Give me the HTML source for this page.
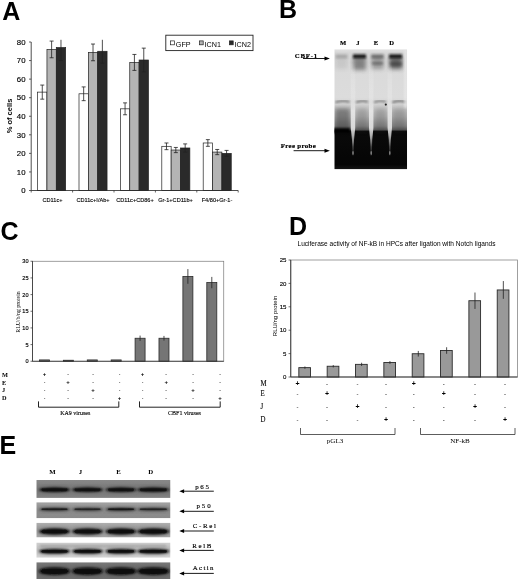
<!DOCTYPE html>
<html lang="en"><head><meta charset="utf-8"><title>Figure</title>
<style>html,body{margin:0;padding:0;background:#fff;}svg{display:block;}text{font-family:"Liberation Sans", sans-serif;fill:#000;}.sf{font-family:"Liberation Serif", serif;}.pl{font-weight:bold;font-size:25px;fill:#000;}</style></head><body>
<svg width="520" height="579" viewBox="0 0 520 579">
<defs>
<filter id="b1" x="-20%" y="-50%" width="140%" height="200%"><feGaussianBlur stdDeviation="1.2"/></filter>
<filter id="b2" x="-20%" y="-50%" width="140%" height="200%"><feGaussianBlur stdDeviation="2"/></filter>
<filter id="b05" x="-20%" y="-50%" width="140%" height="200%"><feGaussianBlur stdDeviation="0.7"/></filter>
<filter id="b09" x="-20%" y="-80%" width="140%" height="260%"><feGaussianBlur stdDeviation="0.9"/></filter>
<filter id="soft"><feGaussianBlur stdDeviation="0.35"/></filter>
<linearGradient id="gelbg" x1="0" y1="0" x2="0" y2="1"><stop offset="0" stop-color="#e2e2e2"/><stop offset="0.03" stop-color="#d6d6d6"/><stop offset="0.15" stop-color="#dadada"/><stop offset="0.40" stop-color="#dcdcdc"/><stop offset="0.47" stop-color="#cfcfcf"/><stop offset="0.56" stop-color="#b2b2b2"/><stop offset="0.64" stop-color="#888888"/><stop offset="0.668" stop-color="#606060"/><stop offset="0.685" stop-color="#0a0a0a"/><stop offset="0.96" stop-color="#050505"/><stop offset="1" stop-color="#151515"/></linearGradient>
<linearGradient id="streak" gradientUnits="userSpaceOnUse" x1="0" y1="62" x2="0" y2="156"><stop offset="0" stop-color="#eeeeee" stop-opacity="0.0"/><stop offset="0.2" stop-color="#eeeeee" stop-opacity="0.28"/><stop offset="0.42" stop-color="#e8e8e8" stop-opacity="0.5"/><stop offset="0.52" stop-color="#e8e8e8" stop-opacity="0.9"/><stop offset="0.70" stop-color="#dedede" stop-opacity="0.95"/><stop offset="0.78" stop-color="#c4c4c4" stop-opacity="0.9"/><stop offset="0.85" stop-color="#909090" stop-opacity="0.85"/><stop offset="0.90" stop-color="#505050" stop-opacity="0.8"/><stop offset="1" stop-color="#444444" stop-opacity="0.2"/></linearGradient>
<clipPath id="gelclip"><rect x="334.5" y="49.3" width="72.6" height="120"/></clipPath>
</defs>
<rect width="520" height="579" fill="#fff"/>
<text class="pl" x="2.3" y="19.5">A</text>
<text class="pl" x="279" y="18.2">B</text>
<text class="pl" x="0.4" y="239.6">C</text>
<text class="pl" x="289" y="234.9">D</text>
<text class="pl" x="-0.5" y="453.9">E</text>
<g id="panelA">
<rect x="37.60" y="92.12" width="9.35" height="98.38" fill="#ffffff" stroke="#222" stroke-width="0.7"/>
<rect x="46.95" y="49.43" width="9.35" height="141.07" fill="#b4b4b4" stroke="#222" stroke-width="0.7"/>
<rect x="56.30" y="47.57" width="9.35" height="142.93" fill="#2a2a2a" stroke="#222" stroke-width="0.7"/>
<path d="M42.27 85.07V99.17M40.27 85.07h4M40.27 99.17h4" stroke="#222" stroke-width="0.8" fill="none"/>
<path d="M51.62 41.07V57.78M49.62 41.07h4M49.62 57.78h4" stroke="#222" stroke-width="0.8" fill="none"/>
<path d="M60.97 39.80V60.56M58.97 60.56h4" stroke="#222" stroke-width="0.8" fill="none"/>
<rect x="79.00" y="93.79" width="9.35" height="96.71" fill="#ffffff" stroke="#222" stroke-width="0.7"/>
<rect x="88.35" y="52.39" width="9.35" height="138.11" fill="#b4b4b4" stroke="#222" stroke-width="0.7"/>
<rect x="97.70" y="51.28" width="9.35" height="139.22" fill="#2a2a2a" stroke="#222" stroke-width="0.7"/>
<path d="M83.67 86.92V100.66M81.67 86.92h4M81.67 100.66h4" stroke="#222" stroke-width="0.8" fill="none"/>
<path d="M93.02 44.04V60.75M91.02 44.04h4M91.02 60.75h4" stroke="#222" stroke-width="0.8" fill="none"/>
<path d="M102.37 39.80V63.16M100.37 63.16h4" stroke="#222" stroke-width="0.8" fill="none"/>
<rect x="120.40" y="108.83" width="9.35" height="81.67" fill="#ffffff" stroke="#222" stroke-width="0.7"/>
<rect x="129.75" y="62.42" width="9.35" height="128.08" fill="#b4b4b4" stroke="#222" stroke-width="0.7"/>
<rect x="139.10" y="60.01" width="9.35" height="130.49" fill="#2a2a2a" stroke="#222" stroke-width="0.7"/>
<path d="M125.07 102.88V114.77M123.07 102.88h4M123.07 114.77h4" stroke="#222" stroke-width="0.8" fill="none"/>
<path d="M134.42 54.44V70.40M132.42 54.44h4M132.42 70.40h4" stroke="#222" stroke-width="0.8" fill="none"/>
<path d="M143.77 48.13V71.89M141.77 48.13h4M141.77 71.89h4" stroke="#222" stroke-width="0.8" fill="none"/>
<rect x="161.80" y="146.32" width="9.35" height="44.18" fill="#ffffff" stroke="#222" stroke-width="0.7"/>
<rect x="171.15" y="150.03" width="9.35" height="40.47" fill="#b4b4b4" stroke="#222" stroke-width="0.7"/>
<rect x="180.50" y="147.99" width="9.35" height="42.51" fill="#2a2a2a" stroke="#222" stroke-width="0.7"/>
<path d="M166.47 142.98V149.66M164.47 142.98h4M164.47 149.66h4" stroke="#222" stroke-width="0.8" fill="none"/>
<path d="M175.82 147.44V152.63M173.82 147.44h4M173.82 152.63h4" stroke="#222" stroke-width="0.8" fill="none"/>
<path d="M185.17 143.91V152.08M183.17 143.91h4M183.17 152.08h4" stroke="#222" stroke-width="0.8" fill="none"/>
<rect x="203.20" y="142.98" width="9.35" height="47.52" fill="#ffffff" stroke="#222" stroke-width="0.7"/>
<rect x="212.55" y="152.08" width="9.35" height="38.42" fill="#b4b4b4" stroke="#222" stroke-width="0.7"/>
<rect x="221.90" y="153.38" width="9.35" height="37.12" fill="#2a2a2a" stroke="#222" stroke-width="0.7"/>
<path d="M207.87 139.64V146.32M205.87 139.64h4M205.87 146.32h4" stroke="#222" stroke-width="0.8" fill="none"/>
<path d="M217.22 149.48V154.67M215.22 149.48h4M215.22 154.67h4" stroke="#222" stroke-width="0.8" fill="none"/>
<path d="M226.57 150.41V156.34M224.57 150.41h4M224.57 156.34h4" stroke="#222" stroke-width="0.8" fill="none"/>
<path d="M31.20 42.00V190.50H238.20" stroke="#222" stroke-width="0.8" fill="none"/>
<path d="M31.20 190.50h-2.2" stroke="#222" stroke-width="0.7"/>
<text x="25.5" y="193.30" font-size="7.8" text-anchor="end" stroke="#000" stroke-width="0.15">0</text>
<path d="M31.20 171.94h-2.2" stroke="#222" stroke-width="0.7"/>
<text x="25.5" y="174.74" font-size="7.8" text-anchor="end" stroke="#000" stroke-width="0.15">10</text>
<path d="M31.20 153.38h-2.2" stroke="#222" stroke-width="0.7"/>
<text x="25.5" y="156.18" font-size="7.8" text-anchor="end" stroke="#000" stroke-width="0.15">20</text>
<path d="M31.20 134.81h-2.2" stroke="#222" stroke-width="0.7"/>
<text x="25.5" y="137.61" font-size="7.8" text-anchor="end" stroke="#000" stroke-width="0.15">30</text>
<path d="M31.20 116.25h-2.2" stroke="#222" stroke-width="0.7"/>
<text x="25.5" y="119.05" font-size="7.8" text-anchor="end" stroke="#000" stroke-width="0.15">40</text>
<path d="M31.20 97.69h-2.2" stroke="#222" stroke-width="0.7"/>
<text x="25.5" y="100.49" font-size="7.8" text-anchor="end" stroke="#000" stroke-width="0.15">50</text>
<path d="M31.20 79.12h-2.2" stroke="#222" stroke-width="0.7"/>
<text x="25.5" y="81.92" font-size="7.8" text-anchor="end" stroke="#000" stroke-width="0.15">60</text>
<path d="M31.20 60.56h-2.2" stroke="#222" stroke-width="0.7"/>
<text x="25.5" y="63.36" font-size="7.8" text-anchor="end" stroke="#000" stroke-width="0.15">70</text>
<path d="M31.20 42.00h-2.2" stroke="#222" stroke-width="0.7"/>
<text x="25.5" y="44.80" font-size="7.8" text-anchor="end" stroke="#000" stroke-width="0.15">80</text>
<path d="M31.20 190.50v2" stroke="#222" stroke-width="0.7"/>
<path d="M72.60 190.50v2" stroke="#222" stroke-width="0.7"/>
<path d="M114.00 190.50v2" stroke="#222" stroke-width="0.7"/>
<path d="M155.40 190.50v2" stroke="#222" stroke-width="0.7"/>
<path d="M196.80 190.50v2" stroke="#222" stroke-width="0.7"/>
<path d="M238.20 190.50v2" stroke="#222" stroke-width="0.7"/>
<text x="52.5" y="202.3" font-size="5.6" text-anchor="middle" stroke="#000" stroke-width="0.12">CD11c+</text>
<text x="93.0" y="202.3" font-size="5.6" text-anchor="middle" stroke="#000" stroke-width="0.12">CD11c+I/Ab+</text>
<text x="135.0" y="202.3" font-size="5.6" text-anchor="middle" stroke="#000" stroke-width="0.12">CD11c+CD86+</text>
<text x="175.5" y="202.3" font-size="5.6" text-anchor="middle" stroke="#000" stroke-width="0.12">Gr-1+CD11b+</text>
<text x="217.0" y="202.3" font-size="5.6" text-anchor="middle" stroke="#000" stroke-width="0.12">F4/80+Gr-1-</text>
<text transform="translate(12.2,116) rotate(-90)" font-size="7.5" font-weight="bold" text-anchor="middle">% of cells</text>
<rect x="165.8" y="35.2" width="87.2" height="15.4" fill="#fff" stroke="#222" stroke-width="0.9"/>
<rect x="170.6" y="40.9" width="3.8" height="3.9" fill="#fff" stroke="#222" stroke-width="0.7"/>
<text x="175.8" y="47" font-size="7.2">GFP</text>
<rect x="199.4" y="40.9" width="3.8" height="3.9" fill="#b4b4b4" stroke="#222" stroke-width="0.7"/>
<text x="204.6" y="47" font-size="7.2">ICN1</text>
<rect x="229.4" y="40.9" width="3.8" height="3.9" fill="#2a2a2a" stroke="#222" stroke-width="0.7"/>
<text x="234.6" y="47" font-size="7.2">ICN2</text>
</g>
<g id="panelB">
<g clip-path="url(#gelclip)">
<rect x="334" y="49.2" width="73.2" height="120.2" fill="url(#gelbg)"/>
<rect x="335.5" y="57" width="12.0" height="12.0" fill="#3a3a3a" opacity="0.10" filter="url(#b2)"/>
<rect x="353.0" y="57" width="13.0" height="13.0" fill="#3a3a3a" opacity="0.55" filter="url(#b2)"/>
<rect x="371.5" y="57" width="12.0" height="12.0" fill="#3a3a3a" opacity="0.42" filter="url(#b2)"/>
<rect x="389.3" y="57" width="13.0" height="12.0" fill="#3a3a3a" opacity="0.75" filter="url(#b2)"/>
<rect x="335.0" y="108" width="15.0" height="24" fill="#222" opacity="0.42" filter="url(#b2)"/>
<rect x="356.5" y="108" width="11.0" height="24" fill="#222" opacity="0.18" filter="url(#b2)"/>
<rect x="375.0" y="108" width="11.0" height="24" fill="#222" opacity="0.18" filter="url(#b2)"/>
<rect x="392.5" y="108" width="13.0" height="24" fill="#222" opacity="0.20" filter="url(#b2)"/>
<rect x="332" y="128.2" width="18" height="5" fill="#060606" filter="url(#b1)"/>
<path d="M350.7 62 L355.3 62 L355.2 128 L354.0 140 L353.6 156 L352.4 156 L352.0 140 L350.8 128 Z" fill="url(#streak)" filter="url(#b05)"/>
<ellipse cx="353.0" cy="153" rx="0.8" ry="2" fill="#999" opacity="0.8" filter="url(#b05)"/>
<path d="M368.9 62 L373.5 62 L373.4 128 L372.2 140 L371.8 156 L370.6 156 L370.2 140 L369.0 128 Z" fill="url(#streak)" filter="url(#b05)"/>
<ellipse cx="371.2" cy="153" rx="0.8" ry="2" fill="#999" opacity="0.8" filter="url(#b05)"/>
<path d="M387.5 62 L392.1 62 L392.0 128 L390.8 140 L390.4 156 L389.2 156 L388.8 140 L387.6 128 Z" fill="url(#streak)" filter="url(#b05)"/>
<ellipse cx="389.8" cy="153" rx="0.8" ry="2" fill="#999" opacity="0.8" filter="url(#b05)"/>
<rect x="335.5" y="54.4" width="12.0" height="4" fill="#101010" opacity="0.20" filter="url(#b1)"/>
<rect x="353.0" y="54.4" width="13.0" height="4" fill="#101010" opacity="0.95" filter="url(#b1)"/>
<rect x="371.2" y="54.4" width="12.5" height="4" fill="#101010" opacity="0.45" filter="url(#b1)"/>
<rect x="389.1" y="54.4" width="13.0" height="4" fill="#101010" opacity="0.95" filter="url(#b1)"/>
<rect x="372" y="62" width="11" height="2.6" fill="#333" opacity="0.4" filter="url(#b1)"/>
<rect x="390" y="62" width="12" height="4" fill="#222" opacity="0.35" filter="url(#b1)"/>
<path d="M335.5 102.3 Q342.5 100.2 349.5 101.8" stroke="#333" stroke-width="2" fill="none" opacity="0.55" filter="url(#b09)"/>
<path d="M356.2 102.3 Q362.0 100.2 367.8 101.8" stroke="#333" stroke-width="2" fill="none" opacity="0.55" filter="url(#b09)"/>
<path d="M374.2 102.3 Q380.0 100.2 385.8 101.8" stroke="#333" stroke-width="2" fill="none" opacity="0.50" filter="url(#b09)"/>
<path d="M392.5 102.3 Q399.0 100.2 405.5 101.8" stroke="#333" stroke-width="2" fill="none" opacity="0.60" filter="url(#b09)"/>
<circle cx="385.8" cy="104.6" r="1.1" fill="#222" filter="url(#b05)"/>
<rect x="404" y="50" width="3.4" height="58" fill="#eee" opacity="0.55" filter="url(#b1)"/>
</g>
<text class="sf" x="343.0" y="45.4" font-size="6.6" font-weight="bold" text-anchor="middle" stroke="#000" stroke-width="0.15">M</text>
<text class="sf" x="357.8" y="45.4" font-size="6.6" font-weight="bold" text-anchor="middle" stroke="#000" stroke-width="0.15">J</text>
<text class="sf" x="376.0" y="45.4" font-size="6.6" font-weight="bold" text-anchor="middle" stroke="#000" stroke-width="0.15">E</text>
<text class="sf" x="391.6" y="45.4" font-size="6.6" font-weight="bold" text-anchor="middle" stroke="#000" stroke-width="0.15">D</text>
<text class="sf" x="294.8" y="57.9" font-size="6.8" font-weight="bold" letter-spacing="0.75" stroke="#000" stroke-width="0.2">CBF-1</text>
<path d="M303 58.5H326" stroke="#000" stroke-width="0.9"/><path d="M329.9 58.5l-5.4 -2v4z" fill="#000"/>
<text class="sf" x="280.7" y="148" font-size="6.9" font-weight="bold" letter-spacing="0.33" stroke="#000" stroke-width="0.2">Free probe</text>
<path d="M293.6 150.7H326" stroke="#000" stroke-width="0.9"/><path d="M329.9 150.7l-5.4 -2v4z" fill="#000"/>
</g>
<g id="panelC">
<rect x="32.50" y="261.25" width="191.25" height="100.00" fill="#fff" stroke="#777" stroke-width="0.7"/>
<rect x="39.45" y="359.92" width="10" height="1.33" fill="#757575" stroke="#2a2a2a" stroke-width="0.8"/>
<rect x="63.36" y="360.25" width="10" height="1.00" fill="#757575" stroke="#2a2a2a" stroke-width="0.8"/>
<rect x="87.27" y="359.92" width="10" height="1.33" fill="#757575" stroke="#2a2a2a" stroke-width="0.8"/>
<rect x="111.17" y="359.92" width="10" height="1.33" fill="#757575" stroke="#2a2a2a" stroke-width="0.8"/>
<rect x="135.08" y="338.25" width="10" height="23.00" fill="#757575" stroke="#2a2a2a" stroke-width="0.8"/>
<path d="M140.08 335.58V340.92" stroke="#222" stroke-width="0.8"/>
<rect x="158.98" y="338.25" width="10" height="23.00" fill="#757575" stroke="#2a2a2a" stroke-width="0.8"/>
<path d="M163.98 335.92V340.58" stroke="#222" stroke-width="0.8"/>
<rect x="182.89" y="276.42" width="10" height="84.83" fill="#757575" stroke="#2a2a2a" stroke-width="0.8"/>
<path d="M187.89 269.08V283.75" stroke="#222" stroke-width="0.8"/>
<rect x="206.80" y="282.58" width="10" height="78.67" fill="#757575" stroke="#2a2a2a" stroke-width="0.8"/>
<path d="M211.80 276.92V288.25" stroke="#222" stroke-width="0.8"/>
<path d="M32.50 261.25V361.25H223.75" stroke="#333" stroke-width="0.8" fill="none"/>
<path d="M32.50 361.25h-2" stroke="#333" stroke-width="0.7"/>
<text x="28.5" y="363.25" font-size="5.6" text-anchor="end" stroke="#000" stroke-width="0.15">0</text>
<path d="M32.50 344.58h-2" stroke="#333" stroke-width="0.7"/>
<text x="28.5" y="346.58" font-size="5.6" text-anchor="end" stroke="#000" stroke-width="0.15">5</text>
<path d="M32.50 327.92h-2" stroke="#333" stroke-width="0.7"/>
<text x="28.5" y="329.92" font-size="5.6" text-anchor="end" stroke="#000" stroke-width="0.15">10</text>
<path d="M32.50 311.25h-2" stroke="#333" stroke-width="0.7"/>
<text x="28.5" y="313.25" font-size="5.6" text-anchor="end" stroke="#000" stroke-width="0.15">15</text>
<path d="M32.50 294.58h-2" stroke="#333" stroke-width="0.7"/>
<text x="28.5" y="296.58" font-size="5.6" text-anchor="end" stroke="#000" stroke-width="0.15">20</text>
<path d="M32.50 277.92h-2" stroke="#333" stroke-width="0.7"/>
<text x="28.5" y="279.92" font-size="5.6" text-anchor="end" stroke="#000" stroke-width="0.15">25</text>
<path d="M32.50 261.25h-2" stroke="#333" stroke-width="0.7"/>
<text x="28.5" y="263.25" font-size="5.6" text-anchor="end" stroke="#000" stroke-width="0.15">30</text>
<text class="sf" transform="translate(19.5,312) rotate(-90)" font-size="5.8" text-anchor="middle">RLU/b/ng protein</text>
<text class="sf" x="2" y="376.7" font-size="6.3" font-weight="bold">M</text>
<text class="sf" x="2" y="384.5" font-size="6.3" font-weight="bold">E</text>
<text class="sf" x="2" y="392.2" font-size="6.3" font-weight="bold">J</text>
<text class="sf" x="2" y="400.2" font-size="6.3" font-weight="bold">D</text>
<text x="44.5" y="376.0" font-size="6" font-weight="bold" text-anchor="middle">+</text>
<text x="68.0" y="376.3" font-size="5" text-anchor="middle" fill="#333">-</text>
<text x="93.0" y="376.3" font-size="5" text-anchor="middle" fill="#333">-</text>
<text x="119.5" y="376.3" font-size="5" text-anchor="middle" fill="#333">-</text>
<text x="142.5" y="376.0" font-size="6" font-weight="bold" text-anchor="middle">+</text>
<text x="166.2" y="376.3" font-size="5" text-anchor="middle" fill="#333">-</text>
<text x="193.0" y="376.3" font-size="5" text-anchor="middle" fill="#333">-</text>
<text x="220.0" y="376.3" font-size="5" text-anchor="middle" fill="#333">-</text>
<text x="44.5" y="384.1" font-size="5" text-anchor="middle" fill="#333">-</text>
<text x="68.0" y="383.8" font-size="6" font-weight="bold" text-anchor="middle">+</text>
<text x="93.0" y="384.1" font-size="5" text-anchor="middle" fill="#333">-</text>
<text x="119.5" y="384.1" font-size="5" text-anchor="middle" fill="#333">-</text>
<text x="142.5" y="384.1" font-size="5" text-anchor="middle" fill="#333">-</text>
<text x="166.2" y="383.8" font-size="6" font-weight="bold" text-anchor="middle">+</text>
<text x="193.0" y="384.1" font-size="5" text-anchor="middle" fill="#333">-</text>
<text x="220.0" y="384.1" font-size="5" text-anchor="middle" fill="#333">-</text>
<text x="44.5" y="391.8" font-size="5" text-anchor="middle" fill="#333">-</text>
<text x="68.0" y="391.8" font-size="5" text-anchor="middle" fill="#333">-</text>
<text x="93.0" y="391.5" font-size="6" font-weight="bold" text-anchor="middle">+</text>
<text x="119.5" y="391.8" font-size="5" text-anchor="middle" fill="#333">-</text>
<text x="142.5" y="391.8" font-size="5" text-anchor="middle" fill="#333">-</text>
<text x="166.2" y="391.8" font-size="5" text-anchor="middle" fill="#333">-</text>
<text x="193.0" y="391.5" font-size="6" font-weight="bold" text-anchor="middle">+</text>
<text x="220.0" y="391.8" font-size="5" text-anchor="middle" fill="#333">-</text>
<text x="44.5" y="399.8" font-size="5" text-anchor="middle" fill="#333">-</text>
<text x="68.0" y="399.8" font-size="5" text-anchor="middle" fill="#333">-</text>
<text x="93.0" y="399.8" font-size="5" text-anchor="middle" fill="#333">-</text>
<text x="119.5" y="399.5" font-size="6" font-weight="bold" text-anchor="middle">+</text>
<text x="142.5" y="399.8" font-size="5" text-anchor="middle" fill="#333">-</text>
<text x="166.2" y="399.8" font-size="5" text-anchor="middle" fill="#333">-</text>
<text x="193.0" y="399.8" font-size="5" text-anchor="middle" fill="#333">-</text>
<text x="220.0" y="399.5" font-size="6" font-weight="bold" text-anchor="middle">+</text>
<path d="M38.5 401.4V407.2H118.8V401.4" stroke="#222" stroke-width="1" fill="none"/>
<path d="M139.5 401.4V407.2H220.2V401.4" stroke="#222" stroke-width="1" fill="none"/>
<text class="sf" x="75.3" y="414.5" font-size="6" text-anchor="middle" stroke="#000" stroke-width="0.12">KA9 viruses</text>
<text class="sf" x="184.5" y="414.5" font-size="6" text-anchor="middle" stroke="#000" stroke-width="0.12">CBF1 viruses</text>
</g>
<g id="panelD">
<text x="297.5" y="245.6" font-size="6.5" textLength="198" lengthAdjust="spacingAndGlyphs">Luciferase activity of NF-kB in HPCs after ligation with Notch ligands</text>
<rect x="290.75" y="260.00" width="226.75" height="117.00" fill="#fff" stroke="#888" stroke-width="0.8"/>
<rect x="298.82" y="367.64" width="11.7" height="9.36" fill="#999" stroke="#2a2a2a" stroke-width="0.9"/>
<path d="M304.92 366.47V368.81" stroke="#222" stroke-width="0.8"/>
<rect x="327.17" y="366.24" width="11.7" height="10.76" fill="#999" stroke="#2a2a2a" stroke-width="0.9"/>
<path d="M333.27 365.07V367.41" stroke="#222" stroke-width="0.8"/>
<rect x="355.51" y="364.36" width="11.7" height="12.64" fill="#999" stroke="#2a2a2a" stroke-width="0.9"/>
<path d="M361.61 362.73V366.00" stroke="#222" stroke-width="0.8"/>
<rect x="383.85" y="362.49" width="11.7" height="14.51" fill="#999" stroke="#2a2a2a" stroke-width="0.9"/>
<path d="M389.95 361.09V363.90" stroke="#222" stroke-width="0.8"/>
<rect x="412.20" y="353.74" width="11.7" height="23.26" fill="#999" stroke="#2a2a2a" stroke-width="0.9"/>
<path d="M418.30 350.93V356.55" stroke="#222" stroke-width="0.8"/>
<rect x="440.54" y="350.51" width="11.7" height="26.49" fill="#999" stroke="#2a2a2a" stroke-width="0.9"/>
<path d="M446.64 347.24V353.79" stroke="#222" stroke-width="0.8"/>
<rect x="468.88" y="300.72" width="11.7" height="76.28" fill="#999" stroke="#2a2a2a" stroke-width="0.9"/>
<path d="M474.98 292.53V308.91" stroke="#222" stroke-width="0.8"/>
<rect x="497.23" y="289.95" width="11.7" height="87.05" fill="#999" stroke="#2a2a2a" stroke-width="0.9"/>
<path d="M503.33 281.06V298.84" stroke="#222" stroke-width="0.8"/>
<path d="M290.75 260.00V377.00H517.50" stroke="#333" stroke-width="0.9" fill="none"/>
<path d="M290.75 377.00h-2.2" stroke="#333" stroke-width="0.7"/>
<text x="286.5" y="379.20" font-size="6.1" text-anchor="end" stroke="#000" stroke-width="0.12">0</text>
<path d="M290.75 353.60h-2.2" stroke="#333" stroke-width="0.7"/>
<text x="286.5" y="355.80" font-size="6.1" text-anchor="end" stroke="#000" stroke-width="0.12">5</text>
<path d="M290.75 330.20h-2.2" stroke="#333" stroke-width="0.7"/>
<text x="286.5" y="332.40" font-size="6.1" text-anchor="end" stroke="#000" stroke-width="0.12">10</text>
<path d="M290.75 306.80h-2.2" stroke="#333" stroke-width="0.7"/>
<text x="286.5" y="309.00" font-size="6.1" text-anchor="end" stroke="#000" stroke-width="0.12">15</text>
<path d="M290.75 283.40h-2.2" stroke="#333" stroke-width="0.7"/>
<text x="286.5" y="285.60" font-size="6.1" text-anchor="end" stroke="#000" stroke-width="0.12">20</text>
<path d="M290.75 260.00h-2.2" stroke="#333" stroke-width="0.7"/>
<text x="286.5" y="262.20" font-size="6.1" text-anchor="end" stroke="#000" stroke-width="0.12">25</text>
<text transform="translate(277,316) rotate(-90)" font-size="6" text-anchor="middle">RLU/ng protein</text>
<text class="sf" transform="translate(260.6,386.1) scale(0.82,1)" font-size="8.4" stroke="#000" stroke-width="0.12">M</text>
<text class="sf" transform="translate(260.6,395.6) scale(0.82,1)" font-size="8.4" stroke="#000" stroke-width="0.12">E</text>
<text class="sf" transform="translate(260.6,409.1) scale(0.82,1)" font-size="8.4" stroke="#000" stroke-width="0.12">J</text>
<text class="sf" transform="translate(260.6,422.1) scale(0.82,1)" font-size="8.4" stroke="#000" stroke-width="0.12">D</text>
<text x="297.5" y="386.4" font-size="7" font-weight="bold" text-anchor="middle">+</text>
<text x="327.0" y="386.4" font-size="6" text-anchor="middle" fill="#222">-</text>
<text x="357.5" y="386.4" font-size="6" text-anchor="middle" fill="#222">-</text>
<text x="386.0" y="386.4" font-size="6" text-anchor="middle" fill="#222">-</text>
<text x="413.8" y="386.4" font-size="7" font-weight="bold" text-anchor="middle">+</text>
<text x="443.8" y="386.4" font-size="6" text-anchor="middle" fill="#222">-</text>
<text x="475.0" y="386.4" font-size="6" text-anchor="middle" fill="#222">-</text>
<text x="505.0" y="386.4" font-size="6" text-anchor="middle" fill="#222">-</text>
<text x="297.5" y="395.9" font-size="6" text-anchor="middle" fill="#222">-</text>
<text x="327.0" y="395.9" font-size="7" font-weight="bold" text-anchor="middle">+</text>
<text x="357.5" y="395.9" font-size="6" text-anchor="middle" fill="#222">-</text>
<text x="386.0" y="395.9" font-size="6" text-anchor="middle" fill="#222">-</text>
<text x="413.8" y="395.9" font-size="6" text-anchor="middle" fill="#222">-</text>
<text x="443.8" y="395.9" font-size="7" font-weight="bold" text-anchor="middle">+</text>
<text x="475.0" y="395.9" font-size="6" text-anchor="middle" fill="#222">-</text>
<text x="505.0" y="395.9" font-size="6" text-anchor="middle" fill="#222">-</text>
<text x="297.5" y="409.4" font-size="6" text-anchor="middle" fill="#222">-</text>
<text x="327.0" y="409.4" font-size="6" text-anchor="middle" fill="#222">-</text>
<text x="357.5" y="409.4" font-size="7" font-weight="bold" text-anchor="middle">+</text>
<text x="386.0" y="409.4" font-size="6" text-anchor="middle" fill="#222">-</text>
<text x="413.8" y="409.4" font-size="6" text-anchor="middle" fill="#222">-</text>
<text x="443.8" y="409.4" font-size="6" text-anchor="middle" fill="#222">-</text>
<text x="475.0" y="409.4" font-size="7" font-weight="bold" text-anchor="middle">+</text>
<text x="505.0" y="409.4" font-size="6" text-anchor="middle" fill="#222">-</text>
<text x="297.5" y="422.4" font-size="6" text-anchor="middle" fill="#222">-</text>
<text x="327.0" y="422.4" font-size="6" text-anchor="middle" fill="#222">-</text>
<text x="357.5" y="422.4" font-size="6" text-anchor="middle" fill="#222">-</text>
<text x="386.0" y="422.4" font-size="7" font-weight="bold" text-anchor="middle">+</text>
<text x="413.8" y="422.4" font-size="6" text-anchor="middle" fill="#222">-</text>
<text x="443.8" y="422.4" font-size="6" text-anchor="middle" fill="#222">-</text>
<text x="475.0" y="422.4" font-size="6" text-anchor="middle" fill="#222">-</text>
<text x="505.0" y="422.4" font-size="7" font-weight="bold" text-anchor="middle">+</text>
<path d="M300.5 428V434.5H395V428" stroke="#333" stroke-width="0.8" fill="none"/>
<path d="M420.5 428V434.5H515V428" stroke="#333" stroke-width="0.8" fill="none"/>
<text class="sf" x="335" y="443.3" font-size="7.1" text-anchor="middle">pGL3</text>
<text class="sf" x="460" y="443.3" font-size="7.1" text-anchor="middle">NF-kB</text>
</g>
<g id="panelE">
<linearGradient id="sg0" x1="0" y1="0" x2="0" y2="1"><stop offset="0" stop-color="#888888"/><stop offset="0.5" stop-color="#7a7a7a"/><stop offset="1" stop-color="#828282"/></linearGradient>
<clipPath id="sc0"><rect x="36.3" y="480.0" width="134.2" height="17.9"/></clipPath>
<g clip-path="url(#sc0)">
<rect x="36.3" y="480.0" width="134.2" height="17.9" fill="url(#sg0)"/>
<rect x="39.5" y="486.9" width="30.0" height="5.8" rx="2.9" fill="#333" opacity="0.33" filter="url(#b2)"/>
<rect x="72.5" y="486.9" width="30.0" height="5.8" rx="2.9" fill="#333" opacity="0.32" filter="url(#b2)"/>
<rect x="106.0" y="486.9" width="30.0" height="5.8" rx="2.9" fill="#333" opacity="0.32" filter="url(#b2)"/>
<rect x="137.8" y="486.9" width="31.0" height="5.8" rx="2.9" fill="#333" opacity="0.32" filter="url(#b2)"/>
<ellipse cx="54.5" cy="489.8" rx="15.5" ry="2.18" fill="#0a0a0a" opacity="0.95" filter="url(#b09)"/>
<rect x="41.5" y="488.43" width="26.0" height="2.74" rx="1.37" fill="#0a0a0a" opacity="0.76" filter="url(#b05)"/>
<ellipse cx="87.5" cy="489.8" rx="15.5" ry="2.18" fill="#0a0a0a" opacity="0.90" filter="url(#b09)"/>
<rect x="74.5" y="488.43" width="26.0" height="2.74" rx="1.37" fill="#0a0a0a" opacity="0.72" filter="url(#b05)"/>
<ellipse cx="121.0" cy="489.8" rx="15.5" ry="2.18" fill="#0a0a0a" opacity="0.90" filter="url(#b09)"/>
<rect x="108.0" y="488.43" width="26.0" height="2.74" rx="1.37" fill="#0a0a0a" opacity="0.72" filter="url(#b05)"/>
<ellipse cx="153.3" cy="489.8" rx="16.0" ry="2.18" fill="#0a0a0a" opacity="0.90" filter="url(#b09)"/>
<rect x="139.8" y="488.43" width="27.0" height="2.74" rx="1.37" fill="#0a0a0a" opacity="0.72" filter="url(#b05)"/>
</g>
<linearGradient id="sg1" x1="0" y1="0" x2="0" y2="1"><stop offset="0" stop-color="#a2a2a2"/><stop offset="0.5" stop-color="#8e8e8e"/><stop offset="1" stop-color="#8a8a8a"/></linearGradient>
<clipPath id="sc1"><rect x="36.3" y="502.2" width="134.2" height="16.1"/></clipPath>
<g clip-path="url(#sc1)">
<rect x="36.3" y="502.2" width="134.2" height="16.1" fill="url(#sg1)"/>
<rect x="39.5" y="507.2" width="30.0" height="4.2" rx="2.1" fill="#333" opacity="0.30" filter="url(#b2)"/>
<rect x="72.5" y="507.2" width="30.0" height="4.2" rx="2.1" fill="#333" opacity="0.26" filter="url(#b2)"/>
<rect x="106.0" y="507.2" width="30.0" height="4.2" rx="2.1" fill="#333" opacity="0.33" filter="url(#b2)"/>
<rect x="137.8" y="507.2" width="31.0" height="4.2" rx="2.1" fill="#333" opacity="0.26" filter="url(#b2)"/>
<ellipse cx="54.5" cy="509.3" rx="15.5" ry="1.26" fill="#0a0a0a" opacity="0.85" filter="url(#b09)"/>
<rect x="41.5" y="508.51" width="26.0" height="1.58" rx="0.79" fill="#0a0a0a" opacity="0.68" filter="url(#b05)"/>
<ellipse cx="87.5" cy="509.3" rx="15.5" ry="1.26" fill="#0a0a0a" opacity="0.75" filter="url(#b09)"/>
<rect x="74.5" y="508.51" width="26.0" height="1.58" rx="0.79" fill="#0a0a0a" opacity="0.60" filter="url(#b05)"/>
<ellipse cx="121.0" cy="509.3" rx="15.5" ry="1.26" fill="#0a0a0a" opacity="0.95" filter="url(#b09)"/>
<rect x="108.0" y="508.51" width="26.0" height="1.58" rx="0.79" fill="#0a0a0a" opacity="0.76" filter="url(#b05)"/>
<ellipse cx="153.3" cy="509.3" rx="16.0" ry="1.26" fill="#0a0a0a" opacity="0.75" filter="url(#b09)"/>
<rect x="139.8" y="508.51" width="27.0" height="1.58" rx="0.79" fill="#0a0a0a" opacity="0.60" filter="url(#b05)"/>
</g>
<linearGradient id="sg2" x1="0" y1="0" x2="0" y2="1"><stop offset="0" stop-color="#b0b0b0"/><stop offset="0.5" stop-color="#989898"/><stop offset="1" stop-color="#aaaaaa"/></linearGradient>
<clipPath id="sc2"><rect x="36.3" y="522.7" width="134.2" height="14.8"/></clipPath>
<g clip-path="url(#sc2)">
<rect x="36.3" y="522.7" width="134.2" height="14.8" fill="url(#sg2)"/>
<rect x="39.5" y="528.0" width="30.0" height="7.0" rx="3.5" fill="#333" opacity="0.35" filter="url(#b2)"/>
<rect x="72.5" y="528.0" width="30.0" height="7.0" rx="3.5" fill="#333" opacity="0.33" filter="url(#b2)"/>
<rect x="106.0" y="528.0" width="30.0" height="7.0" rx="3.5" fill="#333" opacity="0.35" filter="url(#b2)"/>
<rect x="137.8" y="528.0" width="31.0" height="7.0" rx="3.5" fill="#333" opacity="0.35" filter="url(#b2)"/>
<ellipse cx="54.5" cy="531.5" rx="15.5" ry="2.88" fill="#0a0a0a" opacity="1.00" filter="url(#b09)"/>
<rect x="41.5" y="529.70" width="26.0" height="3.60" rx="1.80" fill="#0a0a0a" opacity="0.80" filter="url(#b05)"/>
<ellipse cx="87.5" cy="531.5" rx="15.5" ry="2.88" fill="#0a0a0a" opacity="0.95" filter="url(#b09)"/>
<rect x="74.5" y="529.70" width="26.0" height="3.60" rx="1.80" fill="#0a0a0a" opacity="0.76" filter="url(#b05)"/>
<ellipse cx="121.0" cy="531.5" rx="15.5" ry="2.88" fill="#0a0a0a" opacity="1.00" filter="url(#b09)"/>
<rect x="108.0" y="529.70" width="26.0" height="3.60" rx="1.80" fill="#0a0a0a" opacity="0.80" filter="url(#b05)"/>
<ellipse cx="153.3" cy="531.5" rx="16.0" ry="2.88" fill="#0a0a0a" opacity="1.00" filter="url(#b09)"/>
<rect x="139.8" y="529.70" width="27.0" height="3.60" rx="1.80" fill="#0a0a0a" opacity="0.80" filter="url(#b05)"/>
</g>
<linearGradient id="sg3" x1="0" y1="0" x2="0" y2="1"><stop offset="0" stop-color="#d0d0d0"/><stop offset="0.5" stop-color="#c0c0c0"/><stop offset="1" stop-color="#d8d8d8"/></linearGradient>
<clipPath id="sc3"><rect x="36.3" y="542.5" width="134.2" height="15.3"/></clipPath>
<g clip-path="url(#sc3)">
<rect x="36.3" y="542.5" width="134.2" height="15.3" fill="url(#sg3)"/>
<rect x="40" y="544.8" width="126" height="2" fill="#777" opacity="0.4" filter="url(#b1)"/>
<rect x="39.5" y="548.3" width="30.0" height="5.9" rx="3.0" fill="#333" opacity="0.35" filter="url(#b2)"/>
<rect x="72.5" y="548.3" width="30.0" height="5.9" rx="3.0" fill="#333" opacity="0.35" filter="url(#b2)"/>
<rect x="106.0" y="548.3" width="30.0" height="5.9" rx="3.0" fill="#333" opacity="0.35" filter="url(#b2)"/>
<rect x="137.8" y="548.3" width="31.0" height="5.9" rx="3.0" fill="#333" opacity="0.35" filter="url(#b2)"/>
<ellipse cx="54.5" cy="551.3" rx="15.5" ry="2.24" fill="#0a0a0a" opacity="1.00" filter="url(#b09)"/>
<rect x="41.5" y="549.90" width="26.0" height="2.81" rx="1.40" fill="#0a0a0a" opacity="0.80" filter="url(#b05)"/>
<ellipse cx="87.5" cy="551.3" rx="15.5" ry="2.24" fill="#0a0a0a" opacity="1.00" filter="url(#b09)"/>
<rect x="74.5" y="549.90" width="26.0" height="2.81" rx="1.40" fill="#0a0a0a" opacity="0.80" filter="url(#b05)"/>
<ellipse cx="121.0" cy="551.3" rx="15.5" ry="2.24" fill="#0a0a0a" opacity="1.00" filter="url(#b09)"/>
<rect x="108.0" y="549.90" width="26.0" height="2.81" rx="1.40" fill="#0a0a0a" opacity="0.80" filter="url(#b05)"/>
<ellipse cx="153.3" cy="551.3" rx="16.0" ry="2.24" fill="#0a0a0a" opacity="1.00" filter="url(#b09)"/>
<rect x="139.8" y="549.90" width="27.0" height="2.81" rx="1.40" fill="#0a0a0a" opacity="0.80" filter="url(#b05)"/>
</g>
<linearGradient id="sg4" x1="0" y1="0" x2="0" y2="1"><stop offset="0" stop-color="#7a7a7a"/><stop offset="0.5" stop-color="#686868"/><stop offset="1" stop-color="#707070"/></linearGradient>
<clipPath id="sc4"><rect x="36.3" y="562.2" width="134.2" height="17.3"/></clipPath>
<g clip-path="url(#sc4)">
<rect x="36.3" y="562.2" width="134.2" height="17.3" fill="url(#sg4)"/>
<rect x="39.5" y="567.0" width="30.0" height="8.4" rx="4.2" fill="#333" opacity="0.35" filter="url(#b2)"/>
<rect x="72.5" y="567.0" width="30.0" height="8.4" rx="4.2" fill="#333" opacity="0.35" filter="url(#b2)"/>
<rect x="106.0" y="567.0" width="30.0" height="8.4" rx="4.2" fill="#333" opacity="0.35" filter="url(#b2)"/>
<rect x="137.8" y="567.0" width="31.0" height="8.4" rx="4.2" fill="#333" opacity="0.35" filter="url(#b2)"/>
<ellipse cx="54.5" cy="571.2" rx="15.5" ry="3.68" fill="#0a0a0a" opacity="1.00" filter="url(#b09)"/>
<rect x="41.5" y="568.90" width="26.0" height="4.61" rx="2.30" fill="#0a0a0a" opacity="0.80" filter="url(#b05)"/>
<ellipse cx="87.5" cy="571.2" rx="15.5" ry="3.68" fill="#0a0a0a" opacity="1.00" filter="url(#b09)"/>
<rect x="74.5" y="568.90" width="26.0" height="4.61" rx="2.30" fill="#0a0a0a" opacity="0.80" filter="url(#b05)"/>
<ellipse cx="121.0" cy="571.2" rx="15.5" ry="3.68" fill="#0a0a0a" opacity="1.00" filter="url(#b09)"/>
<rect x="108.0" y="568.90" width="26.0" height="4.61" rx="2.30" fill="#0a0a0a" opacity="0.80" filter="url(#b05)"/>
<ellipse cx="153.3" cy="571.2" rx="16.0" ry="3.68" fill="#0a0a0a" opacity="1.00" filter="url(#b09)"/>
<rect x="139.8" y="568.90" width="27.0" height="4.61" rx="2.30" fill="#0a0a0a" opacity="0.80" filter="url(#b05)"/>
</g>
<text class="sf" x="52.5" y="473.6" font-size="6.8" font-weight="bold" text-anchor="middle">M</text>
<text class="sf" x="80.5" y="473.6" font-size="6.8" font-weight="bold" text-anchor="middle">J</text>
<text class="sf" x="118.5" y="473.6" font-size="6.8" font-weight="bold" text-anchor="middle">E</text>
<text class="sf" x="150.8" y="473.6" font-size="6.8" font-weight="bold" text-anchor="middle">D</text>
<path d="M183 491.2H213.8" stroke="#000" stroke-width="0.9"/><path d="M179.3 491.2l4.8 -2v4z" fill="#000"/>
<text class="sf" x="195.2" y="488.5" font-size="6.9" textLength="13.8" lengthAdjust="spacing" stroke="#000" stroke-width="0.15">p65</text>
<path d="M183 511.3H213.8" stroke="#000" stroke-width="0.9"/><path d="M179.3 511.3l4.8 -2v4z" fill="#000"/>
<text class="sf" x="196.4" y="508.2" font-size="6.9" textLength="14.4" lengthAdjust="spacing" stroke="#000" stroke-width="0.15">p50</text>
<path d="M183 531.0H213.8" stroke="#000" stroke-width="0.9"/><path d="M179.3 531.0l4.8 -2v4z" fill="#000"/>
<text class="sf" x="192.8" y="527.6" font-size="6.9" textLength="23.0" lengthAdjust="spacing" stroke="#000" stroke-width="0.15">C-Rel</text>
<path d="M183 550.4H213.8" stroke="#000" stroke-width="0.9"/><path d="M179.3 550.4l4.8 -2v4z" fill="#000"/>
<text class="sf" x="192.3" y="547.7" font-size="6.9" textLength="19.0" lengthAdjust="spacing" stroke="#000" stroke-width="0.15">RelB</text>
<path d="M183 573.4H213.8" stroke="#000" stroke-width="0.9"/><path d="M179.3 573.4l4.8 -2v4z" fill="#000"/>
<text class="sf" x="192.8" y="569.8" font-size="6.9" textLength="20.6" lengthAdjust="spacing" stroke="#000" stroke-width="0.15">Actin</text>
</g>
</svg></body></html>
